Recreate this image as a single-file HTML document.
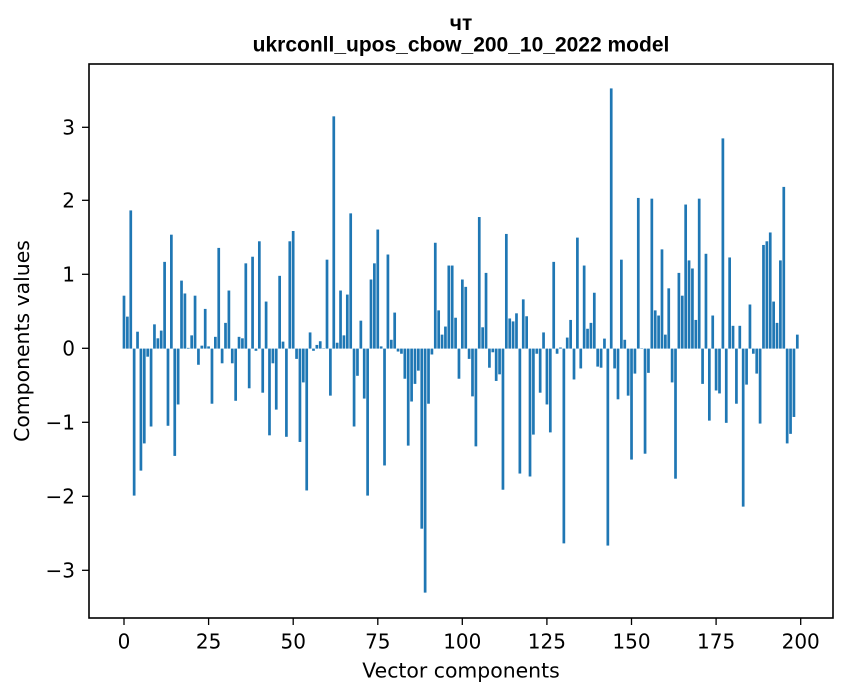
<!DOCTYPE html>
<html>
<head>
<meta charset="utf-8">
<style>
  html, body { margin: 0; padding: 0; background: #ffffff; }
  body { width: 847px; height: 696px; overflow: hidden; }
  svg { display: block; }
  .tick { font-family: "DejaVu Sans", "Liberation Sans", sans-serif; font-size: 20px; fill: #000; }
  .lab { font-family: "DejaVu Sans", "Liberation Sans", sans-serif; font-size: 20.4px; fill: #000; }
  .title { font-family: "Liberation Sans", "DejaVu Sans", sans-serif; font-size: 21px; font-weight: bold; fill: #000; }
</style>
</head>
<body>
<svg width="847" height="696" viewBox="0 0 847 696" xmlns="http://www.w3.org/2000/svg">
  <rect x="0" y="0" width="847" height="696" fill="#ffffff"/>

  <!-- bars in data coordinates -->
  <g transform="translate(124,348.6) scale(3.3835,-73.5)" fill="#1f77b4">
    <rect x="-0.4" y="0" width="0.8" height="0.72"/>
    <rect x="0.6" y="0" width="0.8" height="0.435"/>
    <rect x="1.6" y="0" width="0.8" height="1.88"/>
    <rect x="2.6" y="-2.0" width="0.8" height="2.0"/>
    <rect x="3.6" y="0" width="0.8" height="0.23"/>
    <rect x="4.6" y="-1.66" width="0.8" height="1.66"/>
    <rect x="5.6" y="-1.29" width="0.8" height="1.29"/>
    <rect x="6.6" y="-0.11" width="0.8" height="0.11"/>
    <rect x="7.6" y="-1.06" width="0.8" height="1.06"/>
    <rect x="8.6" y="0" width="0.8" height="0.33"/>
    <rect x="9.6" y="0" width="0.8" height="0.14"/>
    <rect x="10.6" y="0" width="0.8" height="0.245"/>
    <rect x="11.6" y="0" width="0.8" height="1.18"/>
    <rect x="12.6" y="-1.05" width="0.8" height="1.05"/>
    <rect x="13.6" y="0" width="0.8" height="1.55"/>
    <rect x="14.6" y="-1.46" width="0.8" height="1.46"/>
    <rect x="15.6" y="-0.76" width="0.8" height="0.76"/>
    <rect x="16.6" y="0" width="0.8" height="0.925"/>
    <rect x="17.6" y="0" width="0.8" height="0.75"/>
    <rect x="18.6" y="0" width="0.8" height="0.01"/>
    <rect x="19.6" y="0" width="0.8" height="0.18"/>
    <rect x="20.6" y="0" width="0.8" height="0.72"/>
    <rect x="21.6" y="-0.22" width="0.8" height="0.22"/>
    <rect x="22.6" y="0" width="0.8" height="0.04"/>
    <rect x="23.6" y="0" width="0.8" height="0.54"/>
    <rect x="24.6" y="0" width="0.8" height="0.03"/>
    <rect x="25.6" y="-0.75" width="0.8" height="0.75"/>
    <rect x="26.6" y="0" width="0.8" height="0.16"/>
    <rect x="27.6" y="0" width="0.8" height="1.37"/>
    <rect x="28.6" y="-0.2" width="0.8" height="0.2"/>
    <rect x="29.6" y="0" width="0.8" height="0.35"/>
    <rect x="30.6" y="0" width="0.8" height="0.79"/>
    <rect x="31.6" y="-0.2" width="0.8" height="0.2"/>
    <rect x="32.6" y="-0.71" width="0.8" height="0.71"/>
    <rect x="33.6" y="0" width="0.8" height="0.16"/>
    <rect x="34.6" y="0" width="0.8" height="0.14"/>
    <rect x="35.6" y="0" width="0.8" height="1.16"/>
    <rect x="36.6" y="-0.54" width="0.8" height="0.54"/>
    <rect x="37.6" y="0" width="0.8" height="1.25"/>
    <rect x="38.6" y="-0.03" width="0.8" height="0.03"/>
    <rect x="39.6" y="0" width="0.8" height="1.46"/>
    <rect x="40.6" y="-0.6" width="0.8" height="0.6"/>
    <rect x="41.6" y="0" width="0.8" height="0.64"/>
    <rect x="42.6" y="-1.18" width="0.8" height="1.18"/>
    <rect x="43.6" y="-0.2" width="0.8" height="0.2"/>
    <rect x="44.6" y="-0.83" width="0.8" height="0.83"/>
    <rect x="45.6" y="0" width="0.8" height="0.99"/>
    <rect x="46.6" y="0" width="0.8" height="0.095"/>
    <rect x="47.6" y="-1.2" width="0.8" height="1.2"/>
    <rect x="48.6" y="0" width="0.8" height="1.46"/>
    <rect x="49.6" y="0" width="0.8" height="1.6"/>
    <rect x="50.6" y="-0.14" width="0.8" height="0.14"/>
    <rect x="51.6" y="-1.27" width="0.8" height="1.27"/>
    <rect x="52.6" y="-0.46" width="0.8" height="0.46"/>
    <rect x="53.6" y="-1.93" width="0.8" height="1.93"/>
    <rect x="54.6" y="0" width="0.8" height="0.22"/>
    <rect x="55.6" y="-0.03" width="0.8" height="0.03"/>
    <rect x="56.6" y="0" width="0.8" height="0.05"/>
    <rect x="57.6" y="0" width="0.8" height="0.1"/>
    <rect x="58.6" y="0" width="0.8" height="0.005"/>
    <rect x="59.6" y="0" width="0.8" height="1.21"/>
    <rect x="60.6" y="-0.64" width="0.8" height="0.64"/>
    <rect x="61.6" y="0" width="0.8" height="3.16"/>
    <rect x="62.6" y="0" width="0.8" height="0.08"/>
    <rect x="63.6" y="0" width="0.8" height="0.79"/>
    <rect x="64.6" y="0" width="0.8" height="0.18"/>
    <rect x="65.6" y="0" width="0.8" height="0.735"/>
    <rect x="66.6" y="0" width="0.8" height="1.84"/>
    <rect x="67.6" y="-1.06" width="0.8" height="1.06"/>
    <rect x="68.6" y="-0.37" width="0.8" height="0.37"/>
    <rect x="69.6" y="0" width="0.8" height="0.38"/>
    <rect x="70.6" y="-0.68" width="0.8" height="0.68"/>
    <rect x="71.6" y="-2.0" width="0.8" height="2.0"/>
    <rect x="72.6" y="0" width="0.8" height="0.94"/>
    <rect x="73.6" y="0" width="0.8" height="1.16"/>
    <rect x="74.6" y="0" width="0.8" height="1.62"/>
    <rect x="75.6" y="0" width="0.8" height="0.03"/>
    <rect x="76.6" y="-1.59" width="0.8" height="1.59"/>
    <rect x="77.6" y="0" width="0.8" height="1.28"/>
    <rect x="78.6" y="0" width="0.8" height="0.12"/>
    <rect x="79.6" y="0" width="0.8" height="0.49"/>
    <rect x="80.6" y="-0.04" width="0.8" height="0.04"/>
    <rect x="81.6" y="-0.07" width="0.8" height="0.07"/>
    <rect x="82.6" y="-0.41" width="0.8" height="0.41"/>
    <rect x="83.6" y="-1.32" width="0.8" height="1.32"/>
    <rect x="84.6" y="-0.72" width="0.8" height="0.72"/>
    <rect x="85.6" y="-0.48" width="0.8" height="0.48"/>
    <rect x="86.6" y="-0.3" width="0.8" height="0.3"/>
    <rect x="87.6" y="-2.45" width="0.8" height="2.45"/>
    <rect x="88.6" y="-3.32" width="0.8" height="3.32"/>
    <rect x="89.6" y="-0.75" width="0.8" height="0.75"/>
    <rect x="90.6" y="-0.08" width="0.8" height="0.08"/>
    <rect x="91.6" y="0" width="0.8" height="1.44"/>
    <rect x="92.6" y="0" width="0.8" height="0.52"/>
    <rect x="93.6" y="0" width="0.8" height="0.19"/>
    <rect x="94.6" y="0" width="0.8" height="0.3"/>
    <rect x="95.6" y="0" width="0.8" height="1.13"/>
    <rect x="96.6" y="0" width="0.8" height="1.13"/>
    <rect x="97.6" y="0" width="0.8" height="0.42"/>
    <rect x="98.6" y="-0.41" width="0.8" height="0.41"/>
    <rect x="99.6" y="0" width="0.8" height="0.94"/>
    <rect x="100.6" y="0" width="0.8" height="0.84"/>
    <rect x="101.6" y="-0.14" width="0.8" height="0.14"/>
    <rect x="102.6" y="-0.65" width="0.8" height="0.65"/>
    <rect x="103.6" y="-1.33" width="0.8" height="1.33"/>
    <rect x="104.6" y="0" width="0.8" height="1.79"/>
    <rect x="105.6" y="0" width="0.8" height="0.29"/>
    <rect x="106.6" y="0" width="0.8" height="1.03"/>
    <rect x="107.6" y="-0.26" width="0.8" height="0.26"/>
    <rect x="108.6" y="-0.05" width="0.8" height="0.05"/>
    <rect x="109.6" y="-0.44" width="0.8" height="0.44"/>
    <rect x="110.6" y="-0.35" width="0.8" height="0.35"/>
    <rect x="111.6" y="-1.92" width="0.8" height="1.92"/>
    <rect x="112.6" y="0" width="0.8" height="1.56"/>
    <rect x="113.6" y="0" width="0.8" height="0.41"/>
    <rect x="114.6" y="0" width="0.8" height="0.37"/>
    <rect x="115.6" y="0" width="0.8" height="0.48"/>
    <rect x="116.6" y="-1.7" width="0.8" height="1.7"/>
    <rect x="117.6" y="0" width="0.8" height="0.67"/>
    <rect x="118.6" y="0" width="0.8" height="0.44"/>
    <rect x="119.6" y="-1.74" width="0.8" height="1.74"/>
    <rect x="120.6" y="-1.17" width="0.8" height="1.17"/>
    <rect x="121.6" y="-0.07" width="0.8" height="0.07"/>
    <rect x="122.6" y="-0.6" width="0.8" height="0.6"/>
    <rect x="123.6" y="0" width="0.8" height="0.22"/>
    <rect x="124.6" y="-0.76" width="0.8" height="0.76"/>
    <rect x="125.6" y="-1.14" width="0.8" height="1.14"/>
    <rect x="126.6" y="0" width="0.8" height="1.18"/>
    <rect x="127.6" y="-0.07" width="0.8" height="0.07"/>
    <rect x="128.6" y="0" width="0.8" height="0.015"/>
    <rect x="129.6" y="-2.65" width="0.8" height="2.65"/>
    <rect x="130.6" y="0" width="0.8" height="0.15"/>
    <rect x="131.6" y="0" width="0.8" height="0.39"/>
    <rect x="132.6" y="-0.42" width="0.8" height="0.42"/>
    <rect x="133.6" y="0" width="0.8" height="1.51"/>
    <rect x="134.6" y="-0.27" width="0.8" height="0.27"/>
    <rect x="135.6" y="0" width="0.8" height="1.13"/>
    <rect x="136.6" y="0" width="0.8" height="0.27"/>
    <rect x="137.6" y="0" width="0.8" height="0.35"/>
    <rect x="138.6" y="0" width="0.8" height="0.76"/>
    <rect x="139.6" y="-0.245" width="0.8" height="0.245"/>
    <rect x="140.6" y="-0.26" width="0.8" height="0.26"/>
    <rect x="141.6" y="0" width="0.8" height="0.136"/>
    <rect x="142.6" y="-2.68" width="0.8" height="2.68"/>
    <rect x="143.6" y="0" width="0.8" height="3.54"/>
    <rect x="144.6" y="-0.27" width="0.8" height="0.27"/>
    <rect x="145.6" y="-0.69" width="0.8" height="0.69"/>
    <rect x="146.6" y="0" width="0.8" height="1.21"/>
    <rect x="147.6" y="0" width="0.8" height="0.12"/>
    <rect x="148.6" y="-0.64" width="0.8" height="0.64"/>
    <rect x="149.6" y="-1.51" width="0.8" height="1.51"/>
    <rect x="150.6" y="-0.34" width="0.8" height="0.34"/>
    <rect x="151.6" y="0" width="0.8" height="2.05"/>
    <rect x="152.6" y="0" width="0.8" height="0.005"/>
    <rect x="153.6" y="-1.43" width="0.8" height="1.43"/>
    <rect x="154.6" y="-0.33" width="0.8" height="0.33"/>
    <rect x="155.6" y="0" width="0.8" height="2.04"/>
    <rect x="156.6" y="0" width="0.8" height="0.52"/>
    <rect x="157.6" y="0" width="0.8" height="0.45"/>
    <rect x="158.6" y="0" width="0.8" height="1.35"/>
    <rect x="159.6" y="0" width="0.8" height="0.19"/>
    <rect x="160.6" y="0" width="0.8" height="0.82"/>
    <rect x="161.6" y="-0.46" width="0.8" height="0.46"/>
    <rect x="162.6" y="-1.77" width="0.8" height="1.77"/>
    <rect x="163.6" y="0" width="0.8" height="1.03"/>
    <rect x="164.6" y="0" width="0.8" height="0.72"/>
    <rect x="165.6" y="0" width="0.8" height="1.96"/>
    <rect x="166.6" y="0" width="0.8" height="1.2"/>
    <rect x="167.6" y="0" width="0.8" height="1.09"/>
    <rect x="168.6" y="0" width="0.8" height="0.39"/>
    <rect x="169.6" y="0" width="0.8" height="2.04"/>
    <rect x="170.6" y="-0.48" width="0.8" height="0.48"/>
    <rect x="171.6" y="0" width="0.8" height="1.29"/>
    <rect x="172.6" y="-0.98" width="0.8" height="0.98"/>
    <rect x="173.6" y="0" width="0.8" height="0.45"/>
    <rect x="174.6" y="-0.57" width="0.8" height="0.57"/>
    <rect x="175.6" y="-0.61" width="0.8" height="0.61"/>
    <rect x="176.6" y="0" width="0.8" height="2.86"/>
    <rect x="177.6" y="-1.01" width="0.8" height="1.01"/>
    <rect x="178.6" y="0" width="0.8" height="1.24"/>
    <rect x="179.6" y="0" width="0.8" height="0.31"/>
    <rect x="180.6" y="-0.75" width="0.8" height="0.75"/>
    <rect x="181.6" y="0" width="0.8" height="0.31"/>
    <rect x="182.6" y="-2.15" width="0.8" height="2.15"/>
    <rect x="183.6" y="-0.49" width="0.8" height="0.49"/>
    <rect x="184.6" y="0" width="0.8" height="0.6"/>
    <rect x="185.6" y="-0.07" width="0.8" height="0.07"/>
    <rect x="186.6" y="-0.34" width="0.8" height="0.34"/>
    <rect x="187.6" y="-1.02" width="0.8" height="1.02"/>
    <rect x="188.6" y="0" width="0.8" height="1.41"/>
    <rect x="189.6" y="0" width="0.8" height="1.46"/>
    <rect x="190.6" y="0" width="0.8" height="1.58"/>
    <rect x="191.6" y="0" width="0.8" height="0.64"/>
    <rect x="192.6" y="0" width="0.8" height="0.35"/>
    <rect x="193.6" y="0" width="0.8" height="1.2"/>
    <rect x="194.6" y="0" width="0.8" height="2.2"/>
    <rect x="195.6" y="-1.29" width="0.8" height="1.29"/>
    <rect x="196.6" y="-1.16" width="0.8" height="1.16"/>
    <rect x="197.6" y="-0.93" width="0.8" height="0.93"/>
    <rect x="198.6" y="0" width="0.8" height="0.19"/>
  </g>

  <!-- axes frame -->
  <rect x="89" y="64" width="744" height="554" fill="none" stroke="#000" stroke-width="1.6"/>

  <!-- x ticks -->
  <g stroke="#000" stroke-width="1.3">
    <line x1="124" y1="618" x2="124" y2="625"/>
    <line x1="208.6" y1="618" x2="208.6" y2="625"/>
    <line x1="293.2" y1="618" x2="293.2" y2="625"/>
    <line x1="377.8" y1="618" x2="377.8" y2="625"/>
    <line x1="462.3" y1="618" x2="462.3" y2="625"/>
    <line x1="546.9" y1="618" x2="546.9" y2="625"/>
    <line x1="631.5" y1="618" x2="631.5" y2="625"/>
    <line x1="716.1" y1="618" x2="716.1" y2="625"/>
    <line x1="800.7" y1="618" x2="800.7" y2="625"/>
  </g>
  <g class="tick" text-anchor="middle">
    <text x="124" y="648.5">0</text>
    <text x="208.6" y="648.5">25</text>
    <text x="293.2" y="648.5">50</text>
    <text x="377.8" y="648.5">75</text>
    <text x="462.3" y="648.5">100</text>
    <text x="546.9" y="648.5">125</text>
    <text x="631.5" y="648.5">150</text>
    <text x="716.1" y="648.5">175</text>
    <text x="800.7" y="648.5">200</text>
  </g>

  <!-- y ticks -->
  <g stroke="#000" stroke-width="1.3">
    <line x1="82" y1="127.3" x2="89" y2="127.3"/>
    <line x1="82" y1="200.3" x2="89" y2="200.3"/>
    <line x1="82" y1="274.3" x2="89" y2="274.3"/>
    <line x1="82" y1="348.3" x2="89" y2="348.3"/>
    <line x1="82" y1="422.3" x2="89" y2="422.3"/>
    <line x1="82" y1="496.3" x2="89" y2="496.3"/>
    <line x1="82" y1="570.3" x2="89" y2="570.3"/>
  </g>
  <g class="tick" text-anchor="end">
    <text x="75" y="134.6">3</text>
    <text x="75" y="207.6">2</text>
    <text x="75" y="281.6">1</text>
    <text x="75" y="355.6">0</text>
    <text x="75" y="429.6">−1</text>
    <text x="75" y="503.6">−2</text>
    <text x="75" y="577.6">−3</text>
  </g>

  <!-- axis labels -->
  <text class="lab" x="461" y="677.3" text-anchor="middle">Vector components</text>
  <text class="lab" x="0" y="0" text-anchor="middle" transform="translate(28.8,341) rotate(-90)">Components values</text>

  <!-- title -->
  <text class="title" x="461" y="30" text-anchor="middle">чт</text>
  <text class="title" x="461" y="51.7" text-anchor="middle">ukrconll_upos_cbow_200_10_2022 model</text>
</svg>
</body>
</html>
